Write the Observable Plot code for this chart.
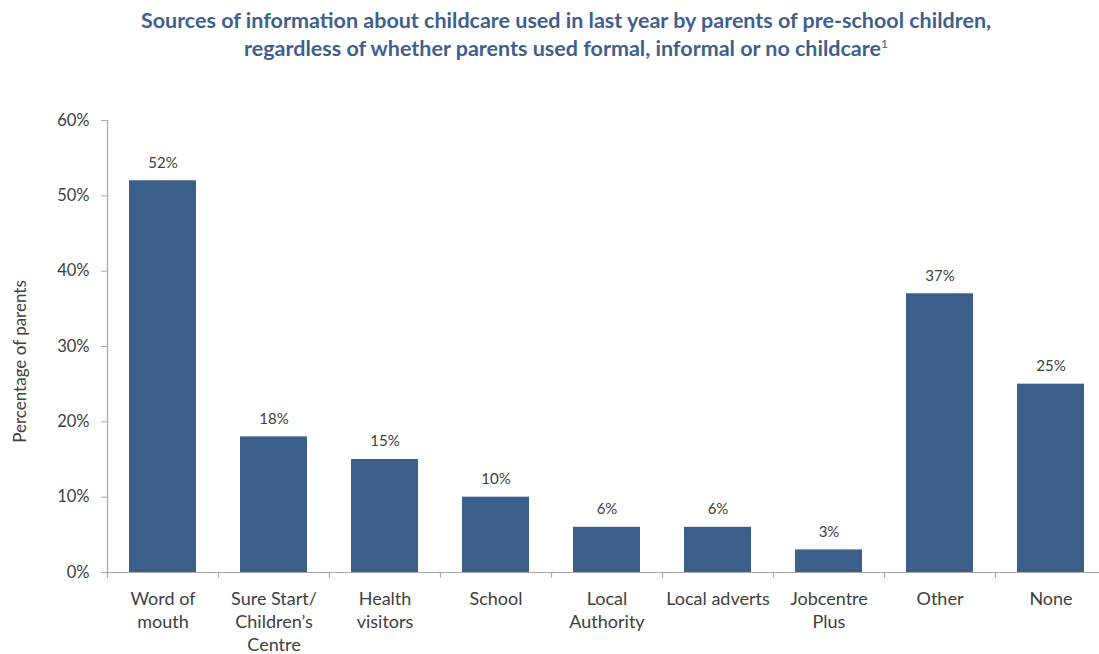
<!DOCTYPE html>
<html>
<head>
<meta charset="utf-8">
<script src="https://cdn.jsdelivr.net/npm/d3@7"></script>
<script src="https://cdn.jsdelivr.net/npm/@observablehq/plot@0.6"></script>
<style>
  html, body { margin: 0; padding: 0; background: #fff; overflow: hidden; }
  #title {
    box-sizing: border-box; width: 1099px; height: 70px; padding: 6px 0 0 33px;
    text-align: center; font-family: Lato, sans-serif; font-weight: bold;
    font-size: 21.5px; line-height: 28px; color: #3F5F8F;
  }
  #title sup { font-size: 12px; font-weight: normal; line-height: 0; vertical-align: 8px; }
  #chart svg { display: block; }
</style>
</head>
<body>
<div id="title">Sources of information about childcare used in last year by parents of pre-school children,<br>regardless of whether parents used formal, informal or no childcare<sup>1</sup></div>
<div id="chart"></div>
<script>
const categories = ["Word of mouth", "Sure Start/ Children’s Centre", "Health visitors", "School", "Local Authority", "Local adverts", "Jobcentre Plus", "Other", "None"];
const tickLabels = ["Word of\nmouth", "Sure Start/\nChildren’s\nCentre", "Health\nvisitors", "School", "Local\nAuthority", "Local adverts", "Jobcentre\nPlus", "Other", "None"];
const values = [52, 18, 15, 10, 6, 6, 3, 37, 25];
const yTicks = [0, 10, 20, 30, 40, 50, 60];
const yLabel = "Percentage of parents";

const data = categories.map((c, i) => ({cat: c, label: tickLabels[i], value: values[i]}));
const textColor = "#404040";
const axisColor = "#A6A6A6";
const barColor = "#3D5F8C";

const chart = Plot.plot({
  width: 1099,
  height: 584,
  marginTop: 50,
  marginBottom: 82,
  marginLeft: 107,
  marginRight: 0,
  style: {fontFamily: "Lato, sans-serif", color: textColor, background: "#fff"},
  x: {domain: categories, range: [107, 1106], paddingInner: 0.4, paddingOuter: 0.2, axis: null},
  y: {domain: [0, 60], axis: null},
  marks: [
    Plot.barY(data, {x: "cat", y: "value", fill: barColor}),
    Plot.ruleY([0], {stroke: axisColor, strokeWidth: 1.2}),
    Plot.ruleX([categories[0]], {x: d => d, y1: 0, y2: 60, dx: -55.5, stroke: axisColor, strokeWidth: 1.2}),
    Plot.ruleX(categories, {x: d => d, y1: -0.75, y2: 0, dx: -55.5, stroke: axisColor, strokeWidth: 1.2}),
    Plot.axisY({ticks: yTicks, tickFormat: d => d + "%", tickSize: 6, tickPadding: 12, fontSize: 16.5, label: null, stroke: axisColor, fill: textColor}),
    Plot.text(data, {x: "cat", y: "value", text: d => d.value + "%", dy: -18, fontSize: 15, fill: textColor}),
    Plot.text(data, {x: "cat", y: 0, text: "label", lineAnchor: "top", dy: 16, fontSize: 18, lineHeight: 1.28, fill: textColor}),
    Plot.text([yLabel], {frameAnchor: "left", textAnchor: "middle", text: d => d, dx: -87, dy: 15, rotate: -90, fontSize: 17, fill: textColor})
  ]
});
document.getElementById("chart").appendChild(chart);
</script>
</body>
</html>
